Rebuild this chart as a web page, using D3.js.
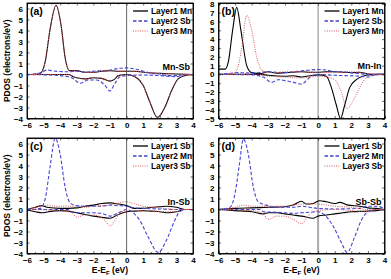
<!DOCTYPE html>
<html><head><meta charset="utf-8">
<script src="https://cdn.jsdelivr.net/npm/d3@7"></script>
<style>body{margin:0;background:#fff}svg{display:block;font-family:"Liberation Sans",Arial,sans-serif;font-weight:bold}</style>
</head><body><svg id="c" width="391" height="279"></svg>
<script>
// ---- data (E - E_F in eV, PDOS in electrons/eV) ----
const panelLabels = ["(a)", "(b)", "(c)", "(d)"];
const interfaceNames = ["Mn-Sb", "Mn-In", "In-Sb", "Sb-Sb"];
const legendA = ["Layer1 Mn", "Layer2 Sb", "Layer3 Mn"];
const legendB = ["Layer1 Mn", "Layer2 Sb", "Layer3 Mn"];
const legendC = ["Layer1 Sb", "Layer2 Mn", "Layer3 Sb"];
const legendD = ["Layer1 Sb", "Layer2 Mn", "Layer3 Sb"];
const xTicks = [-6, -5, -4, -3, -2, -1, 0, 1, 2, 3, 4];
const yTicksA = [-4, -3, -2, -1, 0, 1, 2, 3, 4, 5, 6];
const yTicksB = [-5, -4, -3, -2, -1, 0, 1, 2, 3, 4, 5, 6, 7, 8];

// (a) Mn-Sb
const aL1up = [[-6,0],[-5.5,0.02],[-5.2,0.1],[-4.9,1.2],[-4.6,4.2],[-4.25,6.3],[-3.95,4.5],[-3.7,1.5],[-3.45,0.35],[-3,0.35],[-2.5,0.2],[-2,0.2],[-1.5,0.3],[-1,0.35],[-0.5,0.3],[0,0.3],[0.5,0.3],[1,0.2],[2,0.1],[3,0.05],[4,0]];
const aL1dn = [[-6,0],[-3.5,0],[-3.2,-0.2],[-3,-0.3],[-2.5,-0.4],[-2,-0.3],[-1.5,-0.35],[-1,-0.6],[-0.7,-0.4],[-0.5,-0.1],[0,0],[0.5,-0.2],[1,-1],[1.4,-2.5],[1.85,-3.9],[2.3,-3],[2.7,-1.5],[3.1,-0.4],[3.5,-0.1],[4,0]];
const aL2up = [[-6,0],[-5.3,0.1],[-4.8,0.4],[-4.3,0.3],[-3.5,0.25],[-3,0.3],[-2.5,0.2],[-2,0.3],[-1.5,0.35],[-1,0.4],[-0.5,0.55],[0,0.6],[0.5,0.5],[1,0.3],[1.5,0.1],[2,0.05],[2.5,-0.1],[3,-0.1],[3.5,0],[4,0]];
const aL2dn = [[-6,0],[-4,-0.1],[-3.3,-0.3],[-2.8,-0.8],[-2.3,-0.5],[-1.8,-0.5],[-1.3,-1],[-1,-1.5],[-0.7,-0.8],[-0.4,-0.2],[0,-0.1],[1,-0.05],[2,-0.1],[3,-0.2],[3.5,0],[4,0]];
const aL3up = [[-6,0],[-5.5,0.02],[-5.2,0.1],[-4.9,1.2],[-4.6,4.2],[-4.25,6.3],[-3.95,4.5],[-3.7,1.5],[-3.45,0.35],[-3,0.35],[-2.5,0.2],[-2,0.2],[-1.5,0.3],[-1,0.35],[-0.5,0.3],[0,0.3],[0.5,0.3],[1,0.2],[2,0.1],[3,0.05],[4,0]];
const aL3dn = [[-6,0],[-3.5,0],[-3.2,-0.2],[-3,-0.3],[-2.5,-0.4],[-2,-0.3],[-1.5,-0.35],[-1,-0.6],[-0.7,-0.4],[-0.5,-0.1],[0,0],[0.5,-0.2],[1,-1],[1.4,-2.5],[1.85,-3.9],[2.3,-3],[2.7,-1.5],[3.1,-0.4],[3.5,-0.1],[4,0]];

// (b) Mn-In
const bL1up = [[-6,0.6],[-5.6,0.6],[-5.4,1.5],[-5.15,5],[-4.9,7.6],[-4.65,5],[-4.3,1],[-4,0.2],[-3.5,0.1],[-3,0.3],[-2.5,0.15],[-2,0.2],[-1.5,0.25],[-1,0.3],[-0.5,0.25],[0,0.25],[0.5,0.3],[1,0.3],[2,0.2],[2.5,0.25],[3,0.05],[4,0]];
const bL1dn = [[-6,0],[-3.5,0],[-3,-0.1],[-2,-0.2],[-1.5,-0.15],[-1,-0.3],[-0.5,-0.15],[0,-0.05],[0.5,-0.2],[0.8,-1.5],[1.1,-3.5],[1.35,-5],[1.6,-3.5],[1.9,-1.5],[2.3,-0.6],[2.7,-0.2],[3,-0.05],[4,0]];
const bL2up = [[-6,0],[-5.5,0.1],[-4.8,0.2],[-4,0.15],[-3,0.3],[-2,0.2],[-1.5,0.3],[-1,0.4],[-0.5,0.5],[0,0.55],[0.5,0.5],[1,0.3],[1.5,0.3],[2,0.2],[2.5,0.1],[3,0],[4,0]];
const bL2dn = [[-6,0],[-4,-0.05],[-3.3,-0.3],[-2.8,-0.9],[-2.4,-0.6],[-2,-0.7],[-1.5,-0.9],[-1,-1.1],[-0.6,-0.5],[-0.3,-0.1],[0,0],[1,-0.1],[2.5,-0.2],[3,-0.3],[3.5,0],[4,0]];
const bL3up = [[-6,0],[-5.2,0.05],[-4.9,0.5],[-4.6,3],[-4.3,6.7],[-4,5],[-3.7,2],[-3.4,0.5],[-3,0.2],[-2.5,0.2],[-2,0.3],[-1,0.3],[0,0.2],[1,0.2],[2,0.3],[3,0.1],[4,0]];
const bL3dn = [[-6,0],[-3.5,0],[-3,-0.2],[-2,-0.3],[-1,-0.4],[0,-0.2],[0.5,-0.3],[1,-0.6],[1.4,-2],[1.75,-3.9],[2.1,-3],[2.5,-1.5],[2.8,-0.6],[3.2,-0.1],[4,0]];

// (c) In-Sb
const cL1up = [[-6,0],[-5.5,0.2],[-5.1,0.35],[-4.8,0.2],[-4,0.1],[-3,0.15],[-2.5,0.3],[-2,0.4],[-1.5,0.55],[-1,0.6],[-0.5,0.5],[0,0.35],[0.5,0.1],[1,0.1],[1.5,0.2],[2,0.25],[2.4,0.3],[3,0.2],[3.5,0],[4,0]];
const cL1dn = [[-6,-0.05],[-5.5,-0.2],[-5.1,-0.3],[-4.7,-0.2],[-4,-0.1],[-3.5,-0.15],[-3,-0.3],[-2.5,-0.45],[-2,-0.6],[-1.5,-0.7],[-1,-0.8],[-0.5,-0.45],[0,-0.2],[0.5,-0.15],[1,-0.1],[1.5,-0.15],[2,-0.2],[2.5,-0.3],[3,-0.2],[3.5,0],[4,0]];
const cL2up = [[-6,0],[-5.2,0.1],[-4.9,1],[-4.6,4],[-4.3,6.5],[-4,5],[-3.7,2],[-3.4,0.6],[-3,0.35],[-2.5,0.3],[-2,0.3],[-1.5,0.3],[-1,0.4],[-0.5,0.35],[0,0.3],[0.5,0.15],[1,0.1],[2,0.05],[3,0],[4,0]];
const cL2dn = [[-6,0],[-3.5,0],[-3.3,-0.2],[-3,-0.3],[-2,-0.3],[-1.5,-0.35],[-1,-0.6],[-0.5,-0.3],[0,0],[0.4,-0.3],[0.8,-1],[1.3,-2.5],[1.9,-3.9],[2.4,-2.8],[2.9,-1],[3.2,-0.2],[3.6,0],[4,0]];
const cL3up = [[-6,0],[-5.2,0.3],[-4.8,0.4],[-4.3,0.3],[-3.5,0.3],[-3,0.3],[-2.5,0.2],[-2,0.3],[-1.5,0.35],[-1,0.4],[-0.5,0.6],[0,0.7],[0.5,0.5],[1,0.3],[2,0.15],[3,0],[4,0]];
const cL3dn = [[-6,0],[-4,-0.1],[-3.3,-0.3],[-3,-0.7],[-2.5,-0.5],[-2,-0.5],[-1.3,-1],[-1,-1.5],[-0.7,-1],[-0.4,-0.3],[0,-0.1],[1,-0.1],[2.5,-0.2],[3,-0.2],[3.5,0],[4,0]];

// (d) Sb-Sb
const dL1up = [[-6,0],[-5,0.1],[-4,0.15],[-3,0.2],[-2,0.25],[-1.5,0.4],[-1,0.75],[-0.7,0.5],[-0.3,0.55],[0.1,0.8],[0.5,0.7],[1,0.55],[1.3,0.65],[1.8,0.4],[2.5,0.3],[3,0.15],[3.5,0.1],[4,0]];
const dL1dn = [[-6,0],[-5,-0.1],[-4,-0.2],[-3.3,-0.4],[-3,-0.3],[-2.5,-0.3],[-2,-0.4],[-1.5,-0.5],[-1,-0.6],[-0.3,-0.8],[0,-0.6],[0.5,-0.5],[1,-0.4],[1.5,-0.3],[2,-0.2],[3,-0.15],[3.5,-0.1],[4,0]];
const dL2up = [[-6,0],[-5.3,0.2],[-5,1.5],[-4.75,4],[-4.5,6.4],[-4.2,5],[-3.9,2],[-3.6,0.7],[-3,0.35],[-2.5,0.2],[-2,0.2],[-1.5,0.2],[-1,0.3],[-0.5,0.2],[0,0.1],[1,0.05],[2.5,0.1],[3,0.3],[3.5,0.3],[4,0.1]];
const dL2dn = [[-6,0],[-3.5,0],[-3.3,-0.2],[-2.5,-0.25],[-2,-0.3],[-1.5,-0.35],[-1,-0.3],[-0.5,-0.25],[0,-0.2],[0.4,-0.5],[0.9,-1.5],[1.4,-3],[1.75,-3.9],[2.2,-2.5],[2.6,-1],[3,-0.2],[3.5,0],[4,0]];
const dL3up = [[-6,0],[-5,0.2],[-4.5,0.4],[-4,0.3],[-3,0.3],[-2,0.3],[-1.5,0.4],[-1,0.5],[-0.5,0.5],[0,0.5],[0.5,0.4],[1,0.3],[2,0.2],[3,0],[4,0]];
const dL3dn = [[-6,0],[-4,-0.1],[-3.3,-0.4],[-3,-0.9],[-2.5,-0.6],[-2,-0.6],[-1.5,-0.9],[-1,-1.3],[-0.6,-0.6],[-0.3,-0.2],[0,-0.1],[1,0],[3,-0.2],[3.5,0],[4,0]];

// ---- drawing ----
const svg = d3.select("#c");
const styles = [
  {stroke:"#000", dash:null, w:1.1},
  {stroke:"#4343d4", dash:"3.5,2", w:1.1},
  {stroke:"#d85858", dash:"1,1.3", w:1.0}
];
const panels = [
  {x0:27, x1:193, y0:3, y1:118.5, yd:[-4,6.5], yt:yTicksA, series:[[aL1up,aL1dn],[aL2up,aL2dn],[aL3up,aL3dn]], leg:legendA, label:panelLabels[0], name:interfaceNames[0], xlab:false, ylab:true, fermi:"#666", fw:1},
  {x0:218.5, x1:384.5, y0:3, y1:118.5, yd:[-5,8.1], yt:yTicksB, series:[[bL1up,bL1dn],[bL2up,bL2dn],[bL3up,bL3dn]], leg:legendB, label:panelLabels[1], name:interfaceNames[1], xlab:false, ylab:false, fermi:"#888", fw:1},
  {x0:27, x1:193, y0:138, y1:253.5, yd:[-4,6.5], yt:yTicksA, series:[[cL1up,cL1dn],[cL2up,cL2dn],[cL3up,cL3dn]], leg:legendC, label:panelLabels[2], name:interfaceNames[2], xlab:true, ylab:true, fermi:"#666", fw:1},
  {x0:218.5, x1:384.5, y0:138, y1:253.5, yd:[-4,6.5], yt:yTicksA, series:[[dL1up,dL1dn],[dL2up,dL2dn],[dL3up,dL3dn]], leg:legendD, label:panelLabels[3], name:interfaceNames[3], xlab:true, ylab:false, fermi:"#aaa", fw:2}
];

panels.forEach((p, pi) => {
  const x = d3.scaleLinear().domain([-6,4]).range([p.x0, p.x1]);
  const y = d3.scaleLinear().domain(p.yd).range([p.y1, p.y0]);
  const g = svg.append("g");
  const clipId = "clip" + pi;
  svg.append("clipPath").attr("id", clipId).append("rect")
    .attr("x", p.x0).attr("y", p.y0).attr("width", p.x1 - p.x0).attr("height", p.y1 - p.y0);

  // Fermi level
  g.append("line").attr("x1", x(0)).attr("x2", x(0)).attr("y1", p.y0).attr("y2", p.y1)
    .attr("stroke", p.fermi).attr("stroke-width", p.fw);

  const line = d3.line().x(d => x(d[0])).y(d => y(d[1])).curve(d3.curveMonotoneX);
  const cg = g.append("g").attr("clip-path", `url(#${clipId})`);
  [0, 1, 2].forEach(si => {
    p.series[si].forEach(arr => {
      cg.append("path").attr("d", line(arr)).attr("fill", "none")
        .attr("stroke", styles[si].stroke).attr("stroke-width", styles[si].w)
        .attr("stroke-dasharray", styles[si].dash);
    });
  });

  const ax = g.append("g").attr("transform", `translate(0,${p.y1})`)
    .call(d3.axisBottom(x).tickValues(xTicks).tickSize(-2.5).tickPadding(4).tickFormat(d3.format("d")));
  const axTop = g.append("g").attr("transform", `translate(0,${p.y0})`)
    .call(d3.axisTop(x).tickValues(xTicks).tickSize(-2.5).tickFormat(""));
  const ay = g.append("g").attr("transform", `translate(${p.x0},0)`)
    .call(d3.axisLeft(y).tickValues(p.yt).tickSize(-2.5).tickPadding(4).tickFormat(d3.format("d")));
  const ayR = g.append("g").attr("transform", `translate(${p.x1},0)`)
    .call(d3.axisRight(y).tickValues(p.yt).tickSize(-2.5).tickFormat(""));
  const minor = d3.range(-5.5, 4, 1);
  [ax, axTop].forEach((a, k) => {
    a.selectAll(".mn").data(minor).join("line").attr("x1", d => x(d)).attr("x2", d => x(d))
      .attr("y1", 0).attr("y2", k === 0 ? -1.5 : 1.5).attr("stroke", "#000").attr("stroke-width", 0.6);
  });
  [ax, axTop, ay, ayR].forEach(a => {
    a.select(".domain").attr("stroke", "#000").attr("stroke-width", 0.9);
    a.selectAll(".tick line").attr("stroke", "#000").attr("stroke-width", 0.6);
    a.selectAll("text").attr("font-size", 8).attr("font-weight", "bold")
      .attr("font-family", '"Liberation Sans",Arial,sans-serif').attr("fill", "#000");
  });
  g.append("rect").attr("x", p.x0).attr("y", p.y0).attr("width", p.x1 - p.x0).attr("height", p.y1 - p.y0)
    .attr("fill", "none").attr("stroke", "#000").attr("stroke-width", 0.9);

  g.append("text").attr("x", p.x0 + 3).attr("y", p.y0 + 12).attr("font-size", 10.5).text(p.label);
  g.append("text").attr("x", p.x1 - 3).attr("y", y(0) - 5).attr("text-anchor", "end")
    .attr("font-size", 9).text(p.name);

  p.leg.forEach((t, i) => {
    const ly = p.y0 + 8 + i * 10;
    g.append("line").attr("x1", p.x1 - 60).attr("x2", p.x1 - 45).attr("y1", ly).attr("y2", ly)
      .attr("stroke", styles[i].stroke).attr("stroke-width", styles[i].w + 0.2)
      .attr("stroke-dasharray", styles[i].dash);
    g.append("text").attr("x", p.x1 - 42).attr("y", ly + 3).attr("font-size", 8.3).text(t);
  });

  if (p.ylab) {
    g.append("text").attr("transform", `translate(10,${(p.y0 + p.y1) / 2}) rotate(-90)`)
      .attr("text-anchor", "middle").attr("font-size", 8.5).text("PDOS (electrons/eV)");
  }
  if (p.xlab) {
    const t = g.append("text").attr("x", (p.x0 + p.x1) / 2).attr("y", 273).attr("text-anchor", "middle").attr("font-size", 8.5);
    t.append("tspan").text("E-E");
    t.append("tspan").attr("font-size", 6).attr("dy", 2).text("F");
    t.append("tspan").attr("dy", -2).text(" (eV)");
  }
});
</script></body></html>
